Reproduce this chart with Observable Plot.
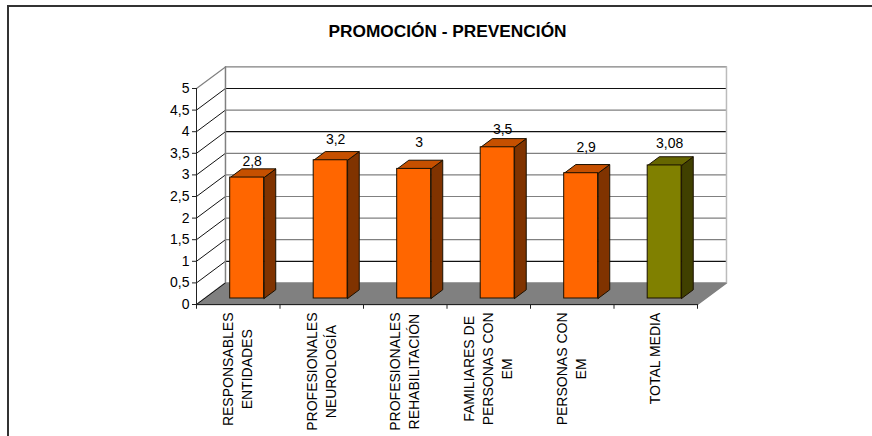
<!DOCTYPE html>
<html lang="es">
<head>
<meta charset="utf-8">
<script src="https://cdn.jsdelivr.net/npm/d3@7"></script>
<script src="https://cdn.jsdelivr.net/npm/@observablehq/plot@0.6"></script>
<style>
  html, body { margin: 0; padding: 0; background: #fff; }
  #chart { position: relative; width: 872px; height: 436px; overflow: hidden; }
  #frame { position: absolute; left: 7px; top: 5px; width: 900px; height: 500px;
           border: 2px solid #333; box-sizing: border-box; }
  #chart svg { position: absolute; left: 0; top: 0; }
</style>
</head>
<body>
<div id="chart"><div id="frame"></div></div>
<script>
const title = "PROMOCIÓN - PREVENCIÓN";
const categories = [
  ["RESPONSABLES", "ENTIDADES"],
  ["PROFESIONALES", "NEUROLOGÍA"],
  ["PROFESIONALES", "REHABILITACIÓN"],
  ["FAMILIARES DE", "PERSONAS CON", "EM"],
  ["PERSONAS CON", "EM"],
  ["TOTAL MEDIA"]
];
const values = [2.8, 3.2, 3, 3.5, 2.9, 3.08];
const valueLabels = ["2,8", "3,2", "3", "3,5", "2,9", "3,08"];
const yTicks = [0, 0.5, 1, 1.5, 2, 2.5, 3, 3.5, 4, 4.5, 5];

const FONT = "Liberation Sans, Arial, sans-serif";
const ORANGE = {front: "#ff6600", top: "#c65000", side: "#803300"};
const OLIVE = {front: "#808000", top: "#666600", side: "#404000"};
const EDGE = "#1a1000";

// Oblique projection: depth 0 is the front of the floor, depth 1 the back wall.
const shearX = 0.347, shearY = 0.5;
const px = (x, depth) => x + depth * shearX;
const py = (y, depth) => y + depth * shearY;
const nCat = categories.length;

// Closed polygon as a list of rows for Plot.line; each corner is [x, y, depth].
const polygon = (id, corners, fill, stroke) =>
  [...corners, corners[0]].map(([x, y, depth]) => ({id, x: px(x, depth), y: py(y, depth), fill, stroke}));

const floor = polygon("floor", [[0, 0, 0], [nCat, 0, 0], [nCat, 0, 1], [0, 0, 1]]);

// Bars stand between these two depths on the floor, centred on their category.
const d0 = 0.278, d1 = 0.68, half = 0.203, centre = 0.51;
const bars = values.map((v, i) => {
  const pal = i === nCat - 1 ? OLIVE : ORANGE;
  return {i, v, x1: i + centre - half, x2: i + centre + half, pal};
});
const faces = bars.flatMap(({i, v, x1, x2, pal}) => [
  ...polygon(`side${i}`, [[x2, 0, d0], [x2, 0, d1], [x2, v, d1], [x2, v, d0]], pal.side, EDGE),
  ...polygon(`top${i}`, [[x1, v, d0], [x2, v, d0], [x2, v, d1], [x1, v, d1]], pal.top, EDGE)
]);

// The printed labels do not all sit at the same height above their bars.
const labelLift = [0.07, 0.18, 0.3, 0.1, 0.28, 0.2];

const blackGrid = new Set([0.5, 3.5, 4.5]);
const lines = (rows, o) => Plot.line(rows, {x: "x", y: "y", z: "id", ...o});

// Wrapped category labels are centred on each other and share a top edge under the axis.
const ctx = document.createElement("canvas").getContext("2d");
ctx.font = `14px ${FONT}`;
const catRows = categories.flatMap((lns, i) => {
  const widest = d3.max(lns, s => ctx.measureText(s).width);
  return lns.map((text, j) => ({i, text, shift: (j - (lns.length - 1) / 2), widest}));
});

const plot = Plot.plot({
  width: 872, height: 436,
  marginLeft: 0, marginRight: 0, marginTop: 0, marginBottom: 0,
  style: {background: "transparent", fontFamily: FONT},
  x: {type: "linear", domain: [0, nCat], range: [196, 697], axis: null},
  y: {type: "linear", domain: [0, 5], range: [304, 88], axis: null},
  marks: [
    // Floor
    lines(floor, {fill: "#808080", stroke: "#808080"}),
    // Gridlines folded along the left wall and the back wall
    lines(yTicks.filter(t => t < 5).flatMap(t => [
      {id: t, x: px(0, 0), y: py(t, 0)},
      {id: t, x: px(0, 1), y: py(t, 1)}
    ]), {stroke: "#111", strokeWidth: 1}),
    lines([{id: 5, x: px(0, 0), y: py(5, 0)}, {id: 5, x: px(0, 1), y: py(5, 1)}], {stroke: "#808080", strokeWidth: 1.2}),
    lines(yTicks.filter(t => t > 0).flatMap(t => [
      {id: t, x: px(0, 1), y: py(t, 1), c: blackGrid.has(t) ? "#111" : "#808080"},
      {id: t, x: px(nCat, 1), y: py(t, 1), c: blackGrid.has(t) ? "#111" : "#808080"}
    ]), {stroke: "c", strokeWidth: 1.2}),
    Plot.ruleX([px(0, 1)], {y1: py(0, 1), y2: py(5, 1), stroke: "#808080", strokeWidth: 1.5}),
    Plot.ruleX([px(nCat, 1)], {y1: py(0, 1), y2: py(5, 1), stroke: "#bbb", strokeWidth: 1.5}),
    // Bars
    lines(faces, {fill: "fill", stroke: "stroke", strokeWidth: 1}),
    Plot.rect(bars, {
      x1: d => px(d.x1, d0), x2: d => px(d.x2, d0),
      y1: py(0, d0), y2: d => py(d.v, d0),
      fill: d => d.pal.front, stroke: EDGE, strokeWidth: 1
    }),
    // Value labels
    Plot.text(bars, {
      x: d => d.i + 0.5 + (d0 + d1) / 2 * shearX,
      y: (d, i) => py(d.v, d1) + labelLift[i],
      text: (d, i) => valueLabels[i],
      textAnchor: "middle", lineAnchor: "bottom",
      fontSize: 14, fill: "#000"
    }),
    // Axes
    Plot.ruleY([0], {x1: 0, x2: nCat, stroke: "#222", strokeWidth: 1}),
    Plot.ruleX([0], {y1: 0, y2: 5, stroke: "#222", strokeWidth: 1}),
    Plot.axisY({
      ticks: yTicks, anchor: "left", tickSize: 4, tickPadding: 3,
      tickFormat: t => String(t).replace(".", ","),
      fontSize: 14, stroke: "#222", fill: "#000", x: 0, label: null
    }),
    Plot.ruleX(d3.range(nCat + 1), {y1: 0, y2: -0.11, stroke: "#222", strokeWidth: 1}),
    // Category labels, one text per wrapped line, rotated to read upward
    ...catRows.map(({i, text, shift, widest}) =>
      Plot.text([text], {
        x: i + 0.5, y: 0, text: d => d,
        rotate: -90, textAnchor: "middle", lineAnchor: "middle",
        dy: 8 + widest / 2, dx: shift * 19,
        fontSize: 14, fill: "#000"
      })
    ),
    // Title
    Plot.text([title], {
      frameAnchor: "top", dy: 24, dx: 11, text: d => d,
      fontSize: 17.3, fontWeight: "bold", fill: "#000", lineAnchor: "top"
    })
  ]
});

document.getElementById("chart").appendChild(plot);
</script>
</body>
</html>
